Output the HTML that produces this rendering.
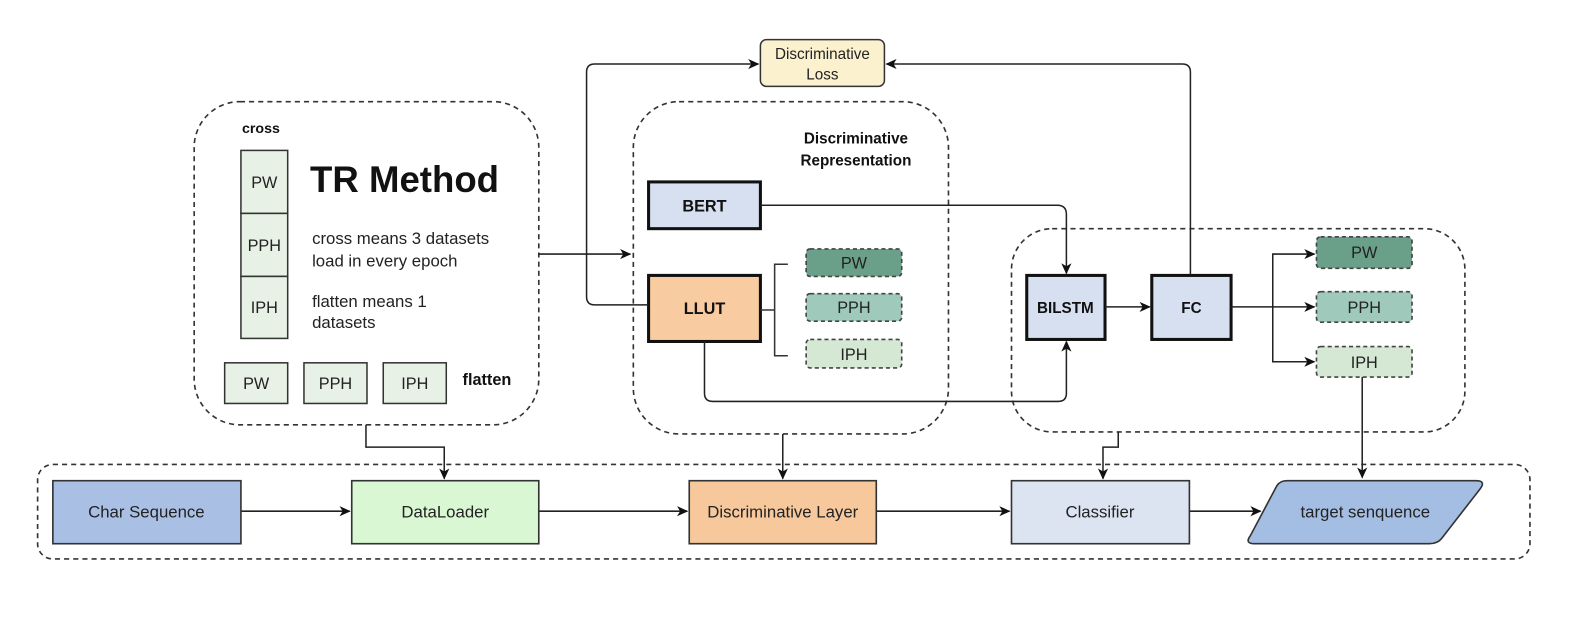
<!DOCTYPE html>
<html><head><meta charset="utf-8"><style>
html,body{margin:0;padding:0;background:#fff;}
svg{display:block;}
text{font-family:"Liberation Sans","Noto Sans CJK SC",sans-serif;}
</style></head><body>
<svg width="1594" height="624" viewBox="0 0 1568 614" preserveAspectRatio="none" xmlns="http://www.w3.org/2000/svg">
<defs>
<marker id="a" markerWidth="12" markerHeight="12" refX="10" refY="6" orient="auto" markerUnits="userSpaceOnUse">
<path d="M0,1 L11,6 L0,11 L3,6 Z" fill="#111"/></marker>
</defs>
<g fill="none" stroke="#333" stroke-width="1.6" stroke-dasharray="5,4">
<rect x="191" y="100" width="339" height="318" rx="45"/>
<rect x="623" y="100" width="310" height="327" rx="45"/>
<rect x="995" y="225" width="446" height="200" rx="40"/>
<rect x="37" y="457" width="1468" height="93" rx="15"/>
</g>
<!-- left box -->
<text x="238" y="131" font-size="14" font-weight="bold" fill="#111">cross</text>
<g stroke="#333" stroke-width="1.5" fill="#e8f1e5">
<rect x="237" y="148" width="46" height="62"/>
<rect x="237" y="210" width="46" height="62"/>
<rect x="237" y="272" width="46" height="61"/>
<rect x="221" y="357" width="62" height="40"/>
<rect x="299" y="357" width="62" height="40"/>
<rect x="377" y="357" width="62" height="40"/>
</g>
<g font-size="16" fill="#222" text-anchor="middle">
<text x="260" y="185">PW</text><text x="260" y="247">PPH</text><text x="260" y="308">IPH</text>
<text x="252" y="383">PW</text><text x="330" y="383">PPH</text><text x="408" y="383">IPH</text>
</g>
<text x="305" y="189" font-size="36" font-weight="bold" fill="#111">TR Method</text>
<g font-size="16.5" fill="#222">
<text x="307" y="240">cross means 3 datasets</text>
<text x="307" y="262">load in every epoch</text>
<text x="307" y="302">flatten means 1</text>
<text x="307" y="323">datasets</text>
</g>
<text x="455" y="379" font-size="16" font-weight="bold" fill="#111">flatten</text>
<!-- middle -->
<text x="842" y="141" font-size="15" font-weight="bold" fill="#111" text-anchor="middle">Discriminative</text>
<text x="842" y="163" font-size="15" font-weight="bold" fill="#111" text-anchor="middle">Representation</text>
<rect x="638" y="179" width="110" height="46" fill="#d6e0f0" stroke="#111" stroke-width="3"/>
<text x="693" y="208" font-size="16" font-weight="bold" text-anchor="middle" fill="#111">BERT</text>
<rect x="638" y="271" width="110" height="65" fill="#f8cba0" stroke="#111" stroke-width="3"/>
<text x="693" y="309" font-size="16" font-weight="bold" text-anchor="middle" fill="#111">LLUT</text>
<path d="M748,305 H762 M775,260 H762 V350 H775" fill="none" stroke="#333" stroke-width="1.5"/>
<g stroke="#444" stroke-width="1.6" stroke-dasharray="4,3">
<rect x="793" y="245" width="94" height="27" rx="4" fill="#6a9f8a"/>
<rect x="793" y="289" width="94" height="27" rx="4" fill="#9ec9bb"/>
<rect x="793" y="334" width="94" height="28" rx="4" fill="#d5e8d4"/>
<rect x="1295" y="233" width="94" height="31" rx="4" fill="#6a9f8a"/>
<rect x="1295" y="287" width="94" height="30" rx="4" fill="#9ec9bb"/>
<rect x="1295" y="341" width="94" height="30" rx="4" fill="#d5e8d4"/>
</g>
<g font-size="16" fill="#222" text-anchor="middle">
<text x="840" y="264">PW</text><text x="840" y="308">PPH</text><text x="840" y="354">IPH</text>
<text x="1342" y="254">PW</text><text x="1342" y="308">PPH</text><text x="1342" y="362">IPH</text>
</g>
<!-- loss -->
<rect x="748" y="39" width="122" height="46" rx="6" fill="#fcf1cf" stroke="#333" stroke-width="1.5"/>
<text x="809" y="58" font-size="15" text-anchor="middle" fill="#222">Discriminative</text>
<text x="809" y="78" font-size="15" text-anchor="middle" fill="#222">Loss</text>
<!-- right -->
<rect x="1010" y="271" width="77" height="63" fill="#d6e0f0" stroke="#111" stroke-width="3"/>
<text x="1048" y="308" font-size="15" font-weight="bold" text-anchor="middle" fill="#111">BILSTM</text>
<rect x="1133" y="271" width="78" height="63" fill="#d6e0f0" stroke="#111" stroke-width="3"/>
<text x="1172" y="308" font-size="15" font-weight="bold" text-anchor="middle" fill="#111">FC</text>
<!-- connectors -->
<g fill="none" stroke="#222" stroke-width="1.5" marker-end="url(#a)">
<path d="M530,250 H620"/>
<path d="M638,300 H585 Q577,300 577,292 V71 Q577,63 585,63 H746"/>
<path d="M1171,271 V71 Q1171,63 1163,63 H872"/>
<path d="M748,202 H1040 Q1049,202 1049,211 V269"/>
<path d="M693,336 V387 Q693,395 701,395 H1041 Q1049,395 1049,387 V336"/>
<path d="M1087,302 H1131"/>
<path d="M1211,302 H1293"/>
<path d="M1252,302 V250 H1293"/>
<path d="M1252,302 V356 H1293"/>
<path d="M1340,371 V470"/>
<path d="M360,418 V440 H437 V471"/>
<path d="M770,427 V471"/>
<path d="M1100,425 V440 H1085 V471"/>
<path d="M237,503 H344"/>
<path d="M530,503 H676"/>
<path d="M862,503 H993"/>
<path d="M1170,503 H1240"/>
</g>
<!-- bottom row -->
<g stroke="#333" stroke-width="1.6">
<rect x="52" y="473" width="185" height="62" fill="#a9c0e4"/>
<rect x="346" y="473" width="184" height="62" fill="#d9f7d3"/>
<rect x="678" y="473" width="184" height="62" fill="#f6c89c"/>
<rect x="995" y="473" width="175" height="62" fill="#dce4f2"/>
<path d="M1266,473 H1452 Q1462,473 1456,481 L1418,530 Q1414,535 1406,535 H1234 Q1224,535 1230,527 L1256,478 Q1259,473 1266,473 Z" fill="#a4bde2"/>
</g>
<g font-size="16.5" fill="#222" text-anchor="middle">
<text x="144" y="509">Char Sequence</text>
<text x="438" y="509">DataLoader</text>
<text x="770" y="509">Discriminative Layer</text>
<text x="1082" y="509">Classifier</text>
<text x="1343" y="509">target senquence</text>
</g>
</svg>
</body></html>
